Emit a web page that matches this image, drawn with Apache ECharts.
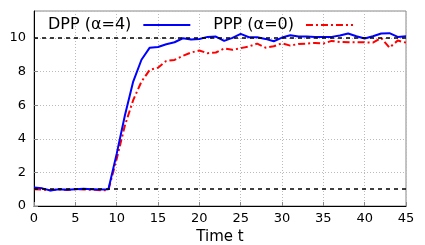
<!DOCTYPE html>
<html><head><meta charset="utf-8">
<script src="https://cdn.jsdelivr.net/npm/echarts@6/dist/echarts.min.js"></script>
<style>html,body{margin:0;padding:0;background:#fff;overflow:hidden}#c{width:425px;height:245px}</style>
</head><body><div id="c"></div>
<script>
const times = [0,1,2,3,4,5,6,7,8,9,10,11,12,13,14,15,16,17,18,19,20,21,22,23,24,25,26,27,28,29,30,31,32,33,34,35,36,37,38,39,40,41,42,43,44,45];
const dpp = [1.1,1.05,0.92,1.0,0.97,1.0,1.02,1.0,0.98,1.0,3.1,5.4,7.4,8.7,9.42,9.46,9.62,9.74,9.98,9.9,9.94,10.06,10.08,9.82,10.0,10.24,10.04,10.04,9.94,9.8,10.02,10.16,10.08,10.08,10.06,10.06,10.06,10.14,10.26,10.1,9.96,10.1,10.26,10.28,10.06,10.1];
const ppp = [1.0,0.98,0.93,1.0,0.95,1.0,0.98,0.97,0.93,0.95,2.8,4.8,6.3,7.4,8.1,8.23,8.63,8.69,8.93,9.13,9.25,9.09,9.13,9.37,9.29,9.39,9.49,9.66,9.42,9.5,9.68,9.54,9.64,9.66,9.7,9.66,9.82,9.76,9.74,9.74,9.74,9.72,10.0,9.42,9.84,9.72];
const refLevels = [1, 10];
const names = ['DPP (α=4)', 'PPP (α=0)'];
const xName = 'Time t';

const font = 'DejaVu Sans';
const chart = echarts.init(document.getElementById('c'), null, {renderer:'canvas', width:425, height:245});
chart.setOption({
  animation:false,
  grid:{left:34,right:19,top:11,bottom:39,show:true,borderColor:'#888',borderWidth:1,
        containLabel:false, outerBoundsMode:'none'},
  legend:{
    data:names, left:43, top:12, align:'right', itemWidth:47, itemHeight:12, itemGap:22,
    itemStyle:{opacity:0},
    textStyle:{fontFamily:font,fontSize:16,color:'#000',padding:[0,7,0,0]}
  },
  xAxis:{
    type:'value', min:0, max:45, interval:5,
    name:xName, nameLocation:'middle', nameGap:18,
    nameTextStyle:{fontFamily:font,fontSize:15,color:'#000'},
    axisLine:{lineStyle:{color:'#000',width:1}},
    axisTick:{inside:true,length:4,lineStyle:{color:'#888'}},
    axisLabel:{fontFamily:font,fontSize:13,color:'#000',margin:6},
    splitLine:{show:true,lineStyle:{type:[1,2],color:'#bbb',width:1}}
  },
  yAxis:{
    type:'value', min:0, max:11.6, interval:2,
    axisLine:{show:true,lineStyle:{color:'#000',width:1}},
    axisTick:{show:true,inside:true,length:4,lineStyle:{color:'#888'}},
    axisLabel:{fontFamily:font,fontSize:13,color:'#000',margin:8,showMaxLabel:false,
      formatter:v=>(Math.abs(v%2)<1e-9?String(v):'')},
    splitLine:{show:true,lineStyle:{type:[1,2],color:'#bbb',width:1}}
  },
  series:[
    {name:names[0],type:'line',data:times.map((t,i)=>[t,dpp[i]]),symbol:'none',
     lineStyle:{color:'#0000ff',width:2},itemStyle:{color:'#0000ff'},z:3},
    {name:names[1],type:'line',data:times.map((t,i)=>[t,ppp[i]]),symbol:'none',
     lineStyle:{color:'#ff0000',width:2,type:[7,3,2,3]},itemStyle:{color:'#ff0000'},z:2},
    {name:'ref',type:'line',data:[],z:4,
     markLine:{silent:true,symbol:['none','none'],label:{show:false},
       lineStyle:{color:'#000',type:[4,4],width:1.5},
       data:refLevels.map(v=>({yAxis:v}))}}
  ]
});
</script></body></html>
